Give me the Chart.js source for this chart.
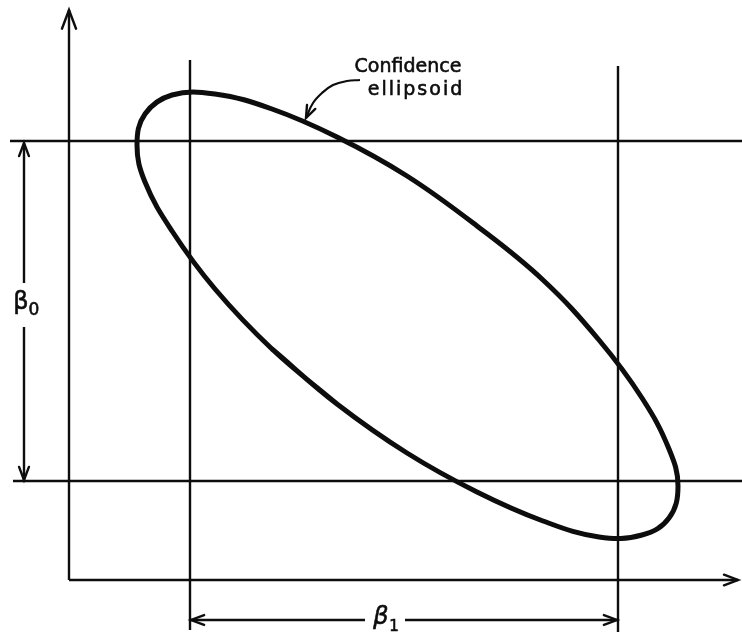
<!DOCTYPE html>
<html>
<head>
<meta charset="utf-8">
<script src="https://cdn.jsdelivr.net/npm/chart.js@4.4.1/dist/chart.umd.min.js"></script>
<style>
  html, body { margin: 0; padding: 0; background: #fff; }
  #wrap { width: 742px; height: 639px; position: relative; }
</style>
</head>
<body>
<div id="wrap"><canvas id="ellipseChart"></canvas></div>
<script>
// (beta1, beta0) plane, origin at the corner of the axes.
// The outline starts on the lower-left side and runs two points past
// the start so the spline closes without a kink.
const ellipseB1 = [26.8, 20.3, 14.6, 10.3, 7.6, 6.8, 7.6, 10.3, 14.6, 20.3, 26.8, 33.8, 40.8,
  47.4, 53.0, 57.3, 60.0, 60.9, 60.0, 57.3, 53.0, 47.4, 40.8, 33.8, 26.8, 20.3];
const ellipseB0 = [17.6, 23.1, 29.1, 34.9, 39.8, 43.5, 46.6, 48.5, 48.6, 47.1, 44.3, 40.4, 35.4,
  30.0, 24.0, 18.2, 13.1, 9.4, 6.2, 4.5, 4.3, 5.9, 8.8, 12.7, 17.6, 23.1];

// individual confidence intervals
const intervalB1 = [12.1, 54.9];
const intervalB0 = [9.9, 43.9];

// plotted window and axis lengths
const rangeB1 = [-6.9, 67.3];
const rangeB0 = [-5.9, 58.0];
const axisEndB1 = 66.9;
const axisEndB0 = 57.0;

// how far the interval lines run
const hLineStart = [-5.6, -5.9];
const vLineTop = [52.0, 51.4];
const vLineBottom = [-5.0, -5.2];

// dimension arrows
const dimB0 = { at: -4.5, from: 43.7, to: 10.0, gap: [29.7, 25.3] };
const dimB1 = { at: -4.0, from: 12.2, to: 54.8, gap: [29.6, 33.6] };

// leader from the label to the curve
const leaderB1 = [29.1, 27.8, 26.4, 25.3, 24.4, 23.7];
const leaderB0 = [50.0, 49.9, 49.5, 48.7, 47.7, 46.2];

const INK = '#0d0d0d';

function zipPoints(xs, ys) {
  return xs.map((x, i) => ({ x, y: ys[i] }));
}

function seg(x1, y1, x2, y2) {
  return [{ x: x1, y: y1 }, { x: x2, y: y2 }];
}

function lineSet(data, extra = {}) {
  return {
    data,
    showLine: true,
    borderColor: INK,
    borderWidth: 2.4,
    pointRadius: 0,
    tension: 0,
    fill: false,
    clip: false,
    ...extra,
  };
}

const datasets = [
  lineSet(zipPoints(ellipseB1, ellipseB0), { borderWidth: 5, tension: 0.4, borderJoinStyle: 'round' }),
  lineSet(seg(0, 0, 0, axisEndB0), { arrow: 'end', headLen: 20 }),
  lineSet(seg(0, 0, axisEndB1, 0), { arrow: 'end', headLen: 15 }),
  lineSet(seg(hLineStart[0], intervalB0[0], rangeB1[1] + 2, intervalB0[0])),
  lineSet(seg(hLineStart[1], intervalB0[1], rangeB1[1] + 2, intervalB0[1])),
  lineSet(seg(intervalB1[0], vLineTop[0], intervalB1[0], vLineBottom[0])),
  lineSet(seg(intervalB1[1], vLineTop[1], intervalB1[1], vLineBottom[1])),
  lineSet(seg(dimB0.at, dimB0.gap[0], dimB0.at, dimB0.from), { arrow: 'end' }),
  lineSet(seg(dimB0.at, dimB0.gap[1], dimB0.at, dimB0.to), { arrow: 'end' }),
  lineSet(seg(dimB1.gap[0], dimB1.at, dimB1.from, dimB1.at), { arrow: 'end' }),
  lineSet(seg(dimB1.gap[1], dimB1.at, dimB1.to, dimB1.at), { arrow: 'end' }),
  lineSet(zipPoints(leaderB1, leaderB0), { borderWidth: 2.2, tension: 0.4, arrow: 'end', headLen: 13 }),
];

// open "V" heads at the last point of flagged datasets
const arrowHeads = {
  id: 'arrowHeads',
  afterDatasetsDraw(chart) {
    const ctx = chart.ctx;
    chart.data.datasets.forEach((ds, i) => {
      if (ds.arrow !== 'end') return;
      const pts = chart.getDatasetMeta(i).data;
      if (pts.length < 2) return;
      const tip = pts[pts.length - 1];
      const prev = pts[pts.length - 2];
      const ang = Math.atan2(tip.y - prev.y, tip.x - prev.x);
      const len = ds.headLen || 14;
      const spread = 0.36;
      ctx.save();
      ctx.strokeStyle = INK;
      ctx.lineWidth = 2.4;
      ctx.lineCap = 'round';
      ctx.beginPath();
      ctx.moveTo(tip.x - len * Math.cos(ang - spread), tip.y - len * Math.sin(ang - spread));
      ctx.lineTo(tip.x, tip.y);
      ctx.lineTo(tip.x - len * Math.cos(ang + spread), tip.y - len * Math.sin(ang + spread));
      ctx.stroke();
      ctx.restore();
    });
  },
};

// filled text with a thin outline so it reads as heavy as the lines
function inkText(ctx, text, x, y) {
  ctx.fillText(text, x, y);
  ctx.strokeText(text, x, y);
}

const labels = {
  id: 'labels',
  afterDraw(chart) {
    const { ctx, scales } = chart;
    const px = (v) => scales.x.getPixelForValue(v);
    const py = (v) => scales.y.getPixelForValue(v);
    ctx.save();
    ctx.fillStyle = INK;
    ctx.strokeStyle = INK;
    ctx.lineWidth = 0.6;
    ctx.textAlign = 'center';
    ctx.textBaseline = 'alphabetic';
    ctx.font = '19px "DejaVu Sans", sans-serif';
    inkText(ctx, 'Confidence', px(33.9), py(50.8));
    ctx.letterSpacing = '2px';
    inkText(ctx, 'ellipsoid', px(34.7), py(48.5));
    ctx.letterSpacing = '0px';

    ctx.textBaseline = 'middle';
    // beta_0 beside the vertical dimension
    const b0x = px(dimB0.at), b0y = py((dimB0.gap[0] + dimB0.gap[1]) / 2);
    ctx.font = '24px "DejaVu Sans", sans-serif';
    inkText(ctx, '\u03B2', b0x - 3, b0y - 2);
    ctx.font = '17px "DejaVu Sans", sans-serif';
    inkText(ctx, '0', b0x + 10, b0y + 6);

    // beta_1 under the horizontal dimension
    const b1x = px((dimB1.gap[0] + dimB1.gap[1]) / 2), b1y = py(dimB1.at);
    ctx.font = 'italic 24px "DejaVu Sans", sans-serif';
    inkText(ctx, '\u03B2', b1x - 4, b1y - 2);
    ctx.font = '15px "DejaVu Sans", sans-serif';
    inkText(ctx, '1', b1x + 9, b1y + 7);
    ctx.restore();
  },
};

new Chart(document.getElementById('ellipseChart'), {
  type: 'scatter',
  data: { datasets },
  options: {
    responsive: true,
    maintainAspectRatio: false,
    animation: false,
    layout: { padding: 0 },
    scales: {
      x: { type: 'linear', display: false, min: rangeB1[0], max: rangeB1[1] },
      y: { type: 'linear', display: false, min: rangeB0[0], max: rangeB0[1] },
    },
    plugins: { legend: { display: false }, tooltip: { enabled: false } },
  },
  plugins: [arrowHeads, labels],
});
</script>
</body>
</html>
